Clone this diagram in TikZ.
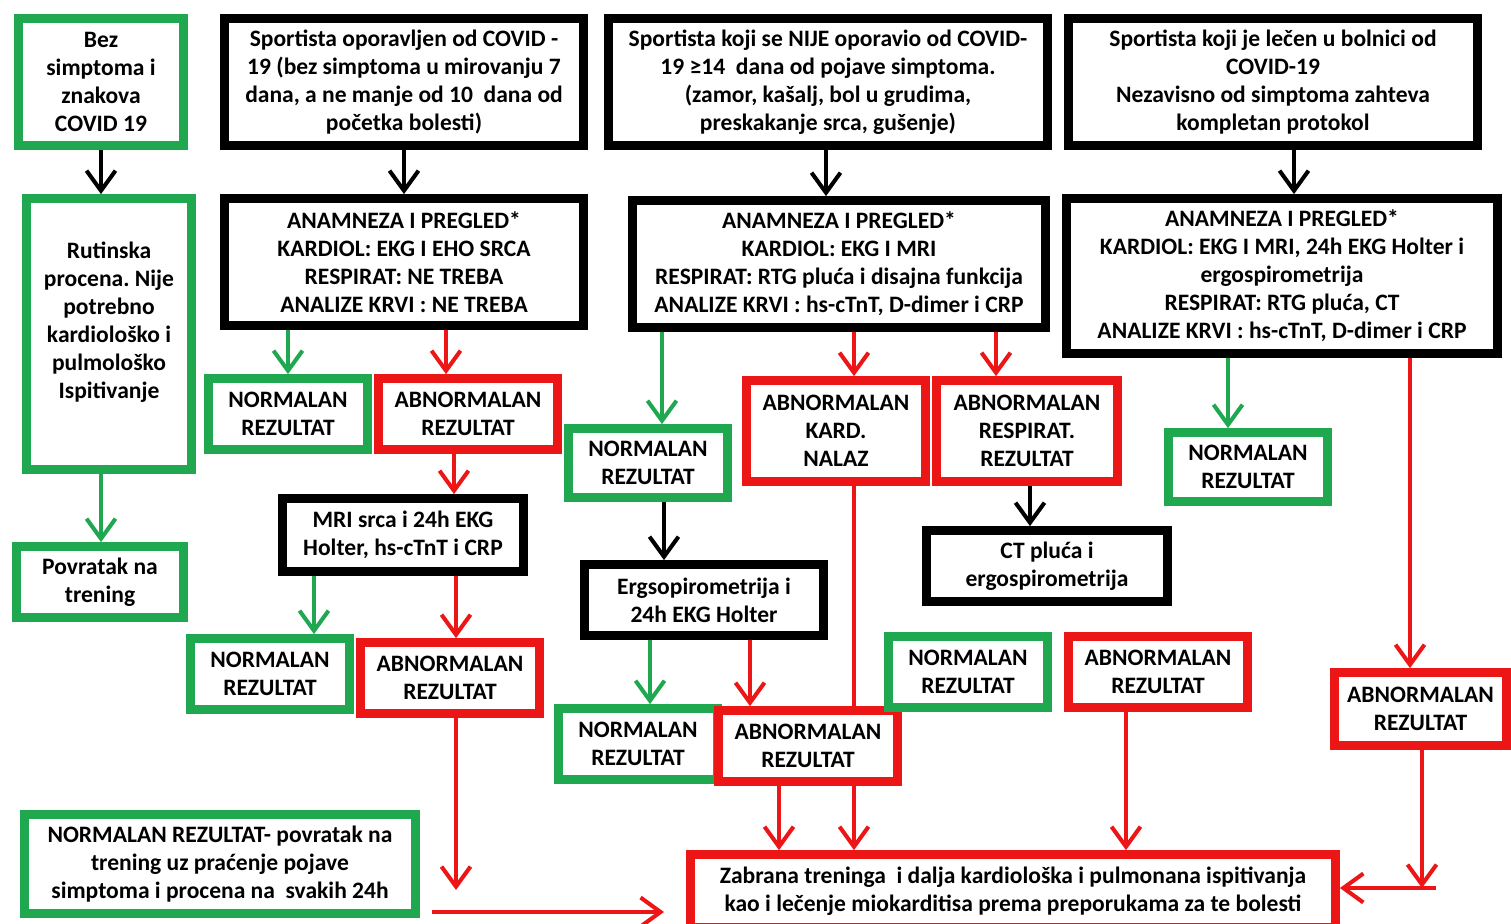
\documentclass[tikz,border=0pt]{standalone}
\usepackage{fontspec}
\setmainfont{Carlito}
\usetikzlibrary{arrows.meta}
\definecolor{gr}{RGB}{32,168,80}
\definecolor{rd}{RGB}{236,22,22}
\frenchspacing
\newcommand\bx[7]{\node[#6, minimum width={(#4-#2-9)*0.02cm}, minimum height={(#5-#3-9)*0.02cm}] (#1) at ({(#2+#4)/2},{(#3+#5)/2}) {#7};}
\begin{document}
\begin{tikzpicture}[x=0.02cm,y=-0.02cm,
  box/.style={draw, line width=5pt, align=center, inner sep=1pt, fill=white, font=\fontsize{13.4}{15.9}\selectfont\bfseries\frenchspacing},
  gbox/.style={box, draw=gr},
  rbox/.style={box, draw=rd},
  kbox/.style={box, draw=black},
  arr/.style={line width=2.3pt, -{Straight Barb[length=0.4cm,width=0.58cm,line width=2.3pt]}},
  garr/.style={arr, draw=gr},
  rarr/.style={arr, draw=rd},
  karr/.style={arr, draw=black},
  rline/.style={line width=2.3pt, draw=rd}]
\fill[white] (0,0) rectangle (1511,923);
\useasboundingbox (0,0) rectangle (1511,923);
% top row
\bx{bez}{14}{14}{188}{150}{gbox}{Bez\\simptoma i\\znakova\\COVID 19}
\bx{opo}{220}{14}{588}{150}{kbox}{Sportista oporavljen od COVID -\\19 (bez simptoma u mirovanju 7\\dana, a ne manje od 10 \ dana od\\početka bolesti)}
\bx{nije}{604}{14}{1052}{150}{kbox}{Sportista koji se NIJE oporavio od COVID-\\19 ≥14 \ dana od pojave simptoma.\\(zamor, kašalj, bol u grudima,\\preskakanje srca, gušenje)}
\bx{bol}{1064}{14}{1482}{150}{kbox}{Sportista koji je lečen u bolnici od\\COVID-19\\Nezavisno od simptoma zahteva\\kompletan protokol}
% second row
\bx{rut}{22}{194}{196}{474}{gbox}{Rutinska\\procena. Nije\\potrebno\\kardiološko i\\pulmološko\\Ispitivanje\\\mbox{}}
\bx{an1}{220}{194}{588}{330}{kbox}{ANAMNEZA I PREGLED*\\KARDIOL: EKG I EHO SRCA\\RESPIRAT: NE TREBA\\ANALIZE KRVI : NE TREBA}
\bx{an2}{628}{196}{1050}{332}{kbox}{ANAMNEZA I PREGLED*\\KARDIOL: EKG I MRI\\RESPIRAT: RTG pluća i disajna funkcija\\ANALIZE KRVI : hs-cTnT, D-dimer i CRP}
\bx{an3}{1062}{194}{1502}{358}{kbox}{ANAMNEZA I PREGLED*\\KARDIOL: EKG I MRI, 24h EKG Holter i\\ergospirometrija\\RESPIRAT: RTG pluća, CT\\ANALIZE KRVI : hs-cTnT, D-dimer i CRP}
% results
\bx{n1}{204}{374}{372}{454}{gbox}{NORMALAN\\REZULTAT}
\bx{a1}{374}{374}{562}{454}{rbox}{ABNORMALAN\\REZULTAT}
\bx{n2}{564}{424}{732}{502}{gbox}{NORMALAN\\REZULTAT}
\bx{kard}{742}{376}{930}{486}{rbox}{ABNORMALAN\\KARD.\\NALAZ}
\bx{resp}{932}{376}{1122}{486}{rbox}{ABNORMALAN\\RESPIRAT.\\REZULTAT}
\bx{n3}{1164}{428}{1332}{506}{gbox}{NORMALAN\\REZULTAT}
\bx{pov}{12}{542}{188}{622}{gbox}{Povratak na\\trening}
\bx{mri}{278}{494}{528}{576}{kbox}{MRI srca i 24h EKG\\Holter, hs-cTnT i CRP}
\bx{ct}{922}{526}{1172}{606}{kbox}{CT pluća i\\ergospirometrija}
\bx{erg}{580}{560}{828}{640}{kbox}{Ergsopirometrija i\\24h EKG Holter}
\bx{n4}{186}{634}{354}{714}{gbox}{NORMALAN\\REZULTAT}
\bx{a4}{356}{638}{544}{718}{rbox}{ABNORMALAN\\REZULTAT}
\bx{n5}{554}{704}{722}{784}{gbox}{NORMALAN\\REZULTAT}
\bx{a5}{714}{706}{902}{786}{rbox}{ABNORMALAN\\REZULTAT}
\bx{n6}{884}{632}{1052}{712}{gbox}{NORMALAN\\REZULTAT}
\bx{a6}{1064}{632}{1252}{712}{rbox}{ABNORMALAN\\REZULTAT}
\bx{a7}{1330}{668}{1511}{750}{rbox}{ABNORMALAN\\REZULTAT}
\bx{nfin}{20}{810}{420}{918}{gbox}{NORMALAN REZULTAT- povratak na\\trening uz praćenje pojave\\simptoma i procena na \ svakih 24h}
\bx{zab}{686}{850}{1340}{932}{rbox}{Zabrana treninga \ i dalja kardiološka i pulmonana ispitivanja\\kao i lečenje miokarditisa prema preporukama za te bolesti}
% connectors
\draw[karr] (bez.south -| 101,0) -- (rut.north -| 101,0);
\draw[garr] (rut.south -| 101,0) -- (pov.north -| 101,0);
\draw[karr] (opo.south -| 404,0) -- (an1.north -| 404,0);
\draw[garr] (an1.south -| 288,0) -- (n1.north -| 288,0);
\draw[rarr] (an1.south -| 446,0) -- (a1.north -| 446,0);
\draw[rarr] (a1.south -| 454,0) -- (mri.north -| 454,0);
\draw[garr] (mri.south -| 314,0) -- (n4.north -| 314,0);
\draw[rarr] (mri.south -| 456,0) -- (a4.north -| 456,0);
\coordinate (f1) at (456,890);
\draw[rarr] (a4.south -| 456,0) -- (f1);
\coordinate (f2) at (432,912);
\coordinate (f3) at (664,912);
\draw[rarr] (f2) -- (f3);
\draw[karr] (nije.south -| 826,0) -- (an2.north -| 826,0);
\draw[garr] (an2.south -| 662,0) -- (n2.north -| 662,0);
\draw[rarr] (an2.south -| 854,0) -- (kard.north -| 854,0);
\draw[rarr] (an2.south -| 996,0) -- (resp.north -| 996,0);
\draw[karr] (n2.south -| 664,0) -- (erg.north -| 664,0);
\draw[karr] (resp.south -| 1030,0) -- (ct.north -| 1030,0);
\draw[garr] (erg.south -| 650,0) -- (n5.north -| 650,0);
\draw[rarr] (erg.south -| 750,0) -- (a5.north -| 750,0);
\draw[rline] (kard.south -| 854,0) -- (a5.north -| 854,0);
\draw[rarr] (a5.south -| 779,0) -- (zab.north -| 779,0);
\draw[rarr] (a5.south -| 854,0) -- (zab.north -| 854,0);
\draw[rarr] (a6.south -| 1126,0) -- (zab.north -| 1126,0);
\draw[karr] (bol.south -| 1294,0) -- (an3.north -| 1294,0);
\draw[garr] (an3.south -| 1228,0) -- (n3.north -| 1228,0);
\draw[rarr] (an3.south -| 1410,0) -- (a7.north -| 1410,0);
\coordinate (f4) at (1422,888);
\draw[rarr] (a7.south -| 1422,0) -- (f4);
\coordinate (f5) at (1436,888);
\draw[rarr] (f5) -- (zab.east |- f5);
\end{tikzpicture}
\end{document}
